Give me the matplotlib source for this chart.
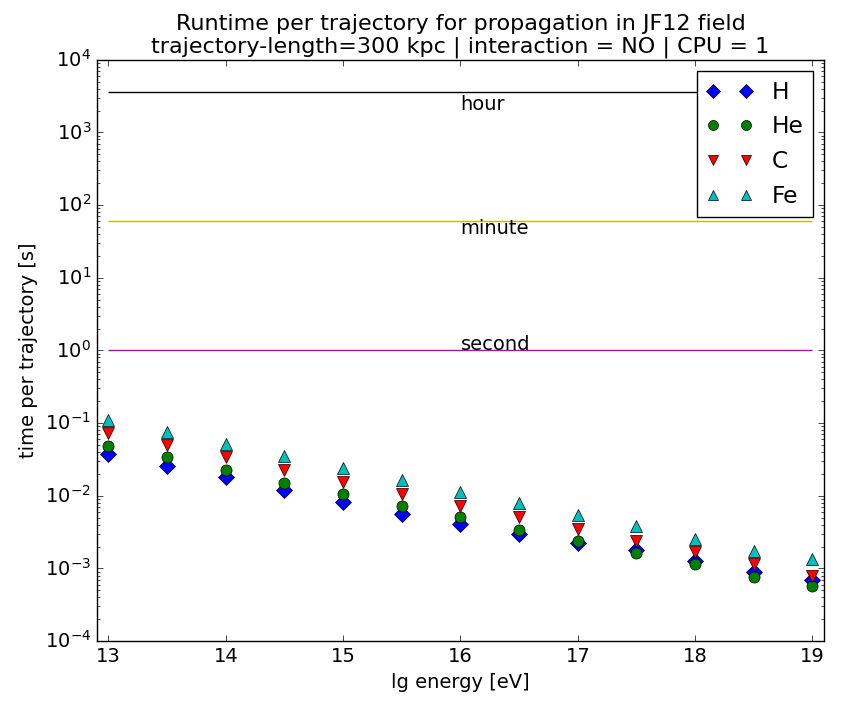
import matplotlib
matplotlib.use('Agg')
import matplotlib.pyplot as plt
import numpy as np

plt.style.use('classic')
plt.rcParams['font.size'] = 14

energy = [13, 13.5, 14, 14.5, 15, 15.5, 16, 16.5, 17, 17.5, 18, 18.5, 19]

t_H = [0.038, 0.026, 0.0179, 0.0119, 0.0082, 0.0057, 0.0041, 0.00296, 0.00227,
       0.00178, 0.00126, 0.00088, 0.00069]
t_He = [0.049, 0.034, 0.023, 0.0152, 0.0105, 0.00726, 0.0051, 0.00336, 0.00239,
        0.00163, 0.00117, 0.00076, 0.00057]
t_C = [0.073, 0.050, 0.034, 0.0225, 0.0156, 0.0107, 0.00726, 0.0051, 0.00347,
       0.00237, 0.00169, 0.00117, 0.00079]
t_Fe = [0.11, 0.076, 0.051, 0.0355, 0.0242, 0.0164, 0.0113, 0.0080, 0.0055,
        0.0038, 0.00258, 0.00173, 0.00134]

ref_times = [3600, 60, 1]
ref_names = ['hour', 'minute', 'second']
ref_colors = ['k', 'y', 'm']
ref_text_y = [2450, 48, 1.22]

fig = plt.figure(figsize=(8.41, 7.03), dpi=100)
ax = fig.add_axes([0.115, 0.088, 0.865, 0.827])

# reference lines: hour, minute, second
for t, name, c, ty in zip(ref_times, ref_names, ref_colors, ref_text_y):
    ax.hlines(t, 13, 19, colors=c)
    ax.text(16, ty, name, va='center', ha='left')

ax.plot(energy, t_H, 'bD', markersize=8, label='H')
ax.plot(energy, t_He, 'go', markersize=8, label='He')
ax.plot(energy, t_C, 'rv', markersize=8, label='C')
ax.plot(energy, t_Fe, 'c^', markersize=8, label='Fe')

ax.set_yscale('log')
ax.set_xlim(12.9, 19.1)
ax.set_ylim(1e-4, 1e4)
ax.set_xlabel('lg energy [eV]')
ax.set_ylabel('time per trajectory [s]')
ax.set_title('Runtime per trajectory for propagation in JF12 field\n'
             'trajectory-length=300 kpc | interaction = NO | CPU = 1',
             fontsize=16)
leg = ax.legend(loc='upper right', numpoints=2, fontsize='large', markerscale=0.9)

fig.savefig('out.png', dpi=100)
